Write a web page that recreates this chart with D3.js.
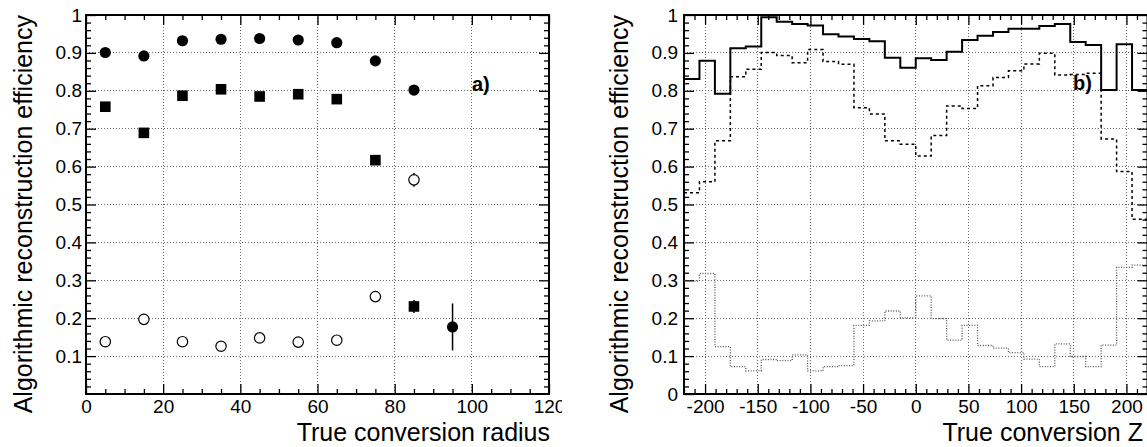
<!DOCTYPE html>
<html><head><meta charset="utf-8">
<script src="https://cdn.jsdelivr.net/npm/d3@7"></script>
<style>
body{margin:0;background:#fff}
svg{display:block}
text{font-family:"Liberation Sans",Arial,Helvetica,sans-serif;fill:#000}
</style>
</head><body>
<svg id="c" width="1147" height="447"></svg>
<script>
// ---------- data: panel a) ----------
const radiusCats = [5, 15, 25, 35, 45, 55, 65, 75, 85, 95];
const effFilledCircle = [0.901, 0.892, 0.932, 0.936, 0.938, 0.934, 0.927, 0.879, 0.802, 0.177];
const errFilledCircle = [0.004, 0.004, 0.004, 0.004, 0.004, 0.004, 0.005, 0.006, 0.010, 0.062];
const effSquare = [0.758, 0.689, 0.787, 0.804, 0.785, 0.791, 0.778, 0.617, 0.231];
const errSquare = [0.005, 0.005, 0.005, 0.005, 0.005, 0.005, 0.006, 0.008, 0.017];
const effOpenCircle = [0.138, 0.197, 0.138, 0.126, 0.148, 0.137, 0.142, 0.257, 0.565];
const errOpenCircle = [0.004, 0.004, 0.004, 0.004, 0.004, 0.004, 0.005, 0.007, 0.018];
const radiusTicks = [0, 20, 40, 60, 80, 100, 120];
const effTicksA = [0.1, 0.2, 0.3, 0.4, 0.5, 0.6, 0.7, 0.8, 0.9, 1];

// ---------- data: panel b) ----------
const zRange = [-220, 220];
const zBins = 30;
const zSolid = [0.831, 0.879, 0.792, 0.912, 0.917, 0.994, 0.982, 0.976, 0.972, 0.949,
                0.943, 0.937, 0.931, 0.887, 0.861, 0.886, 0.881, 0.903, 0.934, 0.945,
                0.955, 0.964, 0.964, 0.971, 0.976, 0.929, 0.921, 0.802, 0.923, 0.802];
const zDashed = [0.531, 0.560, 0.668, 0.837, 0.857, 0.901, 0.893, 0.874, 0.909, 0.877,
                 0.870, 0.755, 0.739, 0.668, 0.659, 0.628, 0.682, 0.760, 0.753, 0.813,
                 0.835, 0.853, 0.871, 0.899, 0.842, 0.843, 0.846, 0.673, 0.587, 0.461];
const zDotted = [0.298, 0.318, 0.125, 0.072, 0.061, 0.091, 0.088, 0.103, 0.061, 0.072,
                 0.075, 0.181, 0.193, 0.219, 0.201, 0.259, 0.199, 0.142, 0.181, 0.128,
                 0.121, 0.109, 0.092, 0.072, 0.132, 0.099, 0.072, 0.129, 0.334, 0.340];
const zTicks = [-200, -150, -100, -50, 0, 50, 100, 150, 200];
const effTicksB = [0, 0.1, 0.2, 0.3, 0.4, 0.5, 0.6, 0.7, 0.8, 0.9, 1];

const yTitle = "Algorithmic reconstruction efficiency";

const svg = d3.select("#c");
const fmt = v => (v === 1 ? "1" : v === 0 ? "0" : d3.format(".1f")(v));

function frame(g, x, y, opts) {
  const [x0, x1] = x.range(), [y1, y0] = y.range();
  const W = x1 - x0, H = y1 - y0;
  const grid = g.append("g").attr("stroke", "#666").attr("stroke-width", 1)
    .attr("stroke-dasharray", "1,2").attr("shape-rendering", "crispEdges");
  grid.selectAll(".gx").data(opts.xMajor.filter(v => v > x.domain()[0] && v < x.domain()[1]))
    .join("line").attr("x1", d => x(d)).attr("x2", d => x(d)).attr("y1", y0).attr("y2", y1);
  grid.selectAll(".gy").data(opts.yMajor.filter(v => v > y.domain()[0] && v < y.domain()[1]))
    .join("line").attr("y1", d => y(d)).attr("y2", d => y(d)).attr("x1", x0).attr("x2", x1);

  const ax = g.append("g");
  ax.append("g").attr("transform", `translate(0,${y1})`)
    .call(d3.axisBottom(x).tickValues(opts.xMajor).tickSize(-10).tickPadding(6).tickFormat(d => d));
  ax.append("g").attr("transform", `translate(0,${y1})`)
    .call(d3.axisBottom(x).tickValues(opts.xMinor).tickSize(-5).tickFormat(""));
  ax.append("g").attr("transform", `translate(0,${y0})`)
    .call(d3.axisTop(x).tickValues(opts.xMajor).tickSize(-10).tickFormat(""));
  ax.append("g").attr("transform", `translate(0,${y0})`)
    .call(d3.axisTop(x).tickValues(opts.xMinor).tickSize(-5).tickFormat(""));
  ax.append("g").attr("transform", `translate(${x0},0)`)
    .call(d3.axisLeft(y).tickValues(opts.yLabels).tickSize(-10).tickPadding(opts.yPad).tickFormat(fmt));
  ax.append("g").attr("transform", `translate(${x0},0)`)
    .call(d3.axisLeft(y).tickValues(opts.yMinor).tickSize(-5).tickFormat(""));
  ax.append("g").attr("transform", `translate(${x1},0)`)
    .call(d3.axisRight(y).tickValues(opts.yMajor).tickSize(-10).tickFormat(""));
  ax.append("g").attr("transform", `translate(${x1},0)`)
    .call(d3.axisRight(y).tickValues(opts.yMinor).tickSize(-5).tickFormat(""));
  ax.selectAll(".domain").remove();
  ax.selectAll(".tick line").attr("stroke", "#000").attr("stroke-width", 1.3);
  ax.selectAll("text").attr("font-size", 19).attr("fill", "#000")
    .style("font-family", '"Liberation Sans",Arial,sans-serif');
  g.append("rect").attr("x", x0).attr("y", y0).attr("width", W).attr("height", H)
    .attr("fill", "none").attr("stroke", "#000").attr("stroke-width", 2);
}

// ---------------- Panel a ----------------
const xa = d3.scaleLinear().domain([0, 120]).range([86, 549]);
const ya = d3.scaleLinear().domain([0, 1]).range([394, 15]);
svg.append("defs").append("clipPath").attr("id", "clipA").append("rect")
  .attr("x", 0).attr("y", 0).attr("width", 562).attr("height", 447);
const ga = svg.append("g").attr("clip-path", "url(#clipA)");
frame(ga, xa, ya, {
  xMajor: radiusTicks, xMinor: d3.range(0, 121, 5).filter(v => v % 20),
  yMajor: effTicksA, yLabels: effTicksA, yMinor: d3.range(0, 101, 2).filter(v => v % 10).map(v => v / 100),
  yPad: 4
});

function errBars(g, xs, vals, errs) {
  g.append("g").selectAll("line").data(vals.map((v, i) => ({x: xs[i], v, e: errs[i]})))
    .join("line").attr("x1", d => xa(d.x)).attr("x2", d => xa(d.x))
    .attr("y1", d => ya(d.v - d.e)).attr("y2", d => ya(d.v + d.e))
    .attr("stroke", "#000").attr("stroke-width", 1.5);
}
errBars(ga, radiusCats, effFilledCircle, errFilledCircle);
errBars(ga, radiusCats, effSquare, errSquare);
errBars(ga, radiusCats, effOpenCircle, errOpenCircle);

ga.append("g").selectAll("circle").data(effFilledCircle).join("circle")
  .attr("cx", (d, i) => xa(radiusCats[i])).attr("cy", d => ya(d)).attr("r", 5.6).attr("fill", "#000");
ga.append("g").selectAll("rect").data(effSquare).join("rect")
  .attr("x", (d, i) => xa(radiusCats[i]) - 5.3).attr("y", d => ya(d) - 5.3)
  .attr("width", 10.6).attr("height", 10.6).attr("fill", "#000");
ga.append("g").selectAll("circle").data(effOpenCircle).join("circle")
  .attr("cx", (d, i) => xa(radiusCats[i])).attr("cy", d => ya(d)).attr("r", 5.2)
  .attr("fill", "#fff").attr("stroke", "#000").attr("stroke-width", 1.2);

ga.append("text").attr("x", 472).attr("y", 91).attr("font-size", 20).attr("font-weight", "bold").text("a)");
ga.append("text").attr("x", 550).attr("y", 441).attr("text-anchor", "end").attr("font-size", 25).text("True conversion radius");
ga.append("text").attr("transform", "translate(32,15) rotate(-90)").attr("text-anchor", "end")
  .attr("font-size", 25).text(yTitle);

// ---------------- Panel b ----------------
const xb = d3.scaleLinear().domain(zRange).range([684, 1147.5]);
const yb = d3.scaleLinear().domain([0, 1]).range([394, 15]);
const gb = svg.append("g");
frame(gb, xb, yb, {
  xMajor: zTicks, xMinor: d3.range(-220, 221, 10).filter(v => v % 50),
  yMajor: effTicksB, yLabels: effTicksB, yMinor: d3.range(0, 101, 2).filter(v => v % 10).map(v => v / 100),
  yPad: 6
});
svg.select("defs").append("clipPath").attr("id", "clipB").append("rect")
  .attr("x", 684).attr("y", 15).attr("width", 463.5).attr("height", 379);

const binW = (zRange[1] - zRange[0]) / zBins;
const stepPts = vals => vals.flatMap((v, i) => [[zRange[0] + i * binW, v], [zRange[0] + (i + 1) * binW, v]]);
const line = d3.line().x(d => xb(d[0])).y(d => yb(d[1]));
const hg = gb.append("g").attr("clip-path", "url(#clipB)");
hg.append("path").attr("d", line(stepPts(zDotted))).attr("fill", "none")
  .attr("stroke", "#555").attr("stroke-width", 1.3).attr("stroke-dasharray", "1,1.6");
hg.append("path").attr("d", line(stepPts(zDashed))).attr("fill", "none")
  .attr("stroke", "#000").attr("stroke-width", 1.5).attr("stroke-dasharray", "3,3");
hg.append("path").attr("d", line(stepPts(zSolid))).attr("fill", "none")
  .attr("stroke", "#000").attr("stroke-width", 2);

gb.append("text").attr("x", 1073).attr("y", 90).attr("font-size", 20).attr("font-weight", "bold").text("b)");
gb.append("text").attr("x", 1143).attr("y", 441).attr("text-anchor", "end").attr("font-size", 25).text("True conversion Z");
gb.append("text").attr("transform", "translate(628,15) rotate(-90)").attr("text-anchor", "end")
  .attr("font-size", 25).text(yTitle);
</script>
</body></html>
